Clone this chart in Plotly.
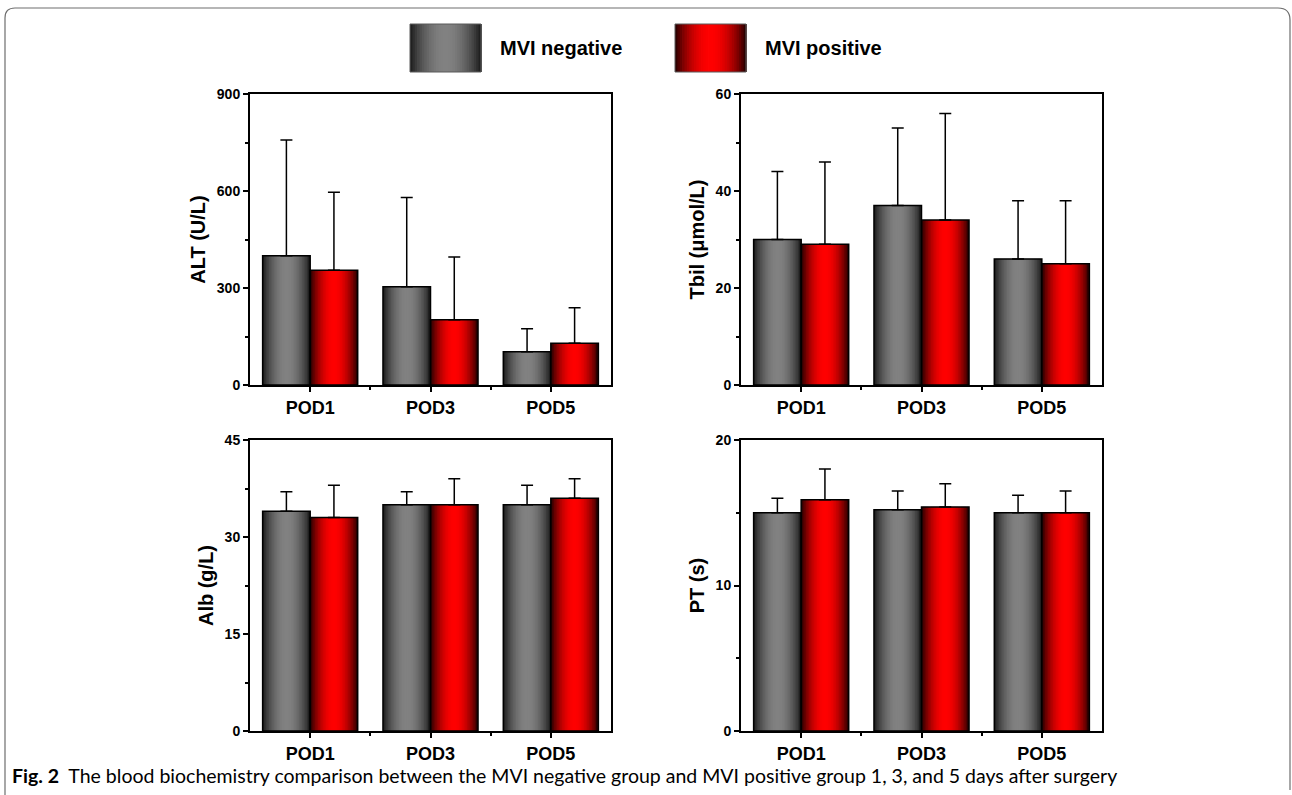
import plotly.graph_objects as go
import math

categories = ["POD1", "POD3", "POD5"]
groups = ["MVI negative", "MVI positive"]

alt_neg = [400, 304, 103]
alt_neg_err = [358, 276, 71]
alt_pos = [355, 202, 129]
alt_pos_err = [241, 194, 110]

tbil_neg = [30, 37, 26]
tbil_neg_err = [14, 16, 12]
tbil_pos = [29, 34, 25]
tbil_pos_err = [17, 22, 13]

alb_neg = [34, 35, 35]
alb_neg_err = [3, 2, 3]
alb_pos = [33, 35, 36]
alb_pos_err = [5, 4, 3]

pt_neg = [15.0, 15.2, 15.0]
pt_neg_err = [1.0, 1.3, 1.2]
pt_pos = [15.9, 15.4, 15.0]
pt_pos_err = [2.1, 1.6, 1.5]

panels = [
    dict(title="ALT (U/L)", neg=alt_neg, neg_err=alt_neg_err, pos=alt_pos, pos_err=alt_pos_err,
         ymax=900, dtick=300),
    dict(title="Tbil (μmol/L)", neg=tbil_neg, neg_err=tbil_neg_err, pos=tbil_pos, pos_err=tbil_pos_err,
         ymax=60, dtick=20),
    dict(title="Alb (g/L)", neg=alb_neg, neg_err=alb_neg_err, pos=alb_pos, pos_err=alb_pos_err,
         ymax=45, dtick=15),
    dict(title="PT (s)", neg=pt_neg, neg_err=pt_neg_err, pos=pt_pos, pos_err=pt_pos_err,
         ymax=20, dtick=10),
]

W, H = 1292, 795
xdoms = [[250 / W, 611 / W], [741 / W, 1102 / W]]
ydoms = [[1 - 385 / H, 1 - 94 / H], [1 - 731 / H, 1 - 440 / H]]

NSL = 30
BW = 0.395


def profile(t):
    return math.sin(math.pi * t) ** 0.8


def gray_col(t):
    p = profile(t)
    v = int(22 + (130 - 22) * p)
    return f"rgb({v},{v},{v})"


def red_col(t):
    p = profile(t)
    r = int(25 + (255 - 25) * p)
    return f"rgb({r},0,0)"


fig = go.Figure()
xs = list(range(len(categories)))
FONT = "Liberation Sans, Arial"

for i, pnl in enumerate(panels):
    col = i % 2
    row = i // 2
    xa = "x" if i == 0 else f"x{i+1}"
    ya = "y" if i == 0 else f"y{i+1}"
    for g, (vals, errs, cfun, off) in enumerate([
        (pnl["neg"], pnl["neg_err"], gray_col, -BW),
        (pnl["pos"], pnl["pos_err"], red_col, 0.0),
    ]):
        sw = BW / NSL
        for k in range(NSL):
            t = (k + 0.5) / NSL
            last = k == NSL - 1
            fig.add_trace(go.Bar(
                x=xs, y=vals, xaxis=xa, yaxis=ya,
                width=sw if last else sw * 2, offset=off + k * sw,
                marker=dict(color=cfun(t), line=dict(width=0)),
                showlegend=False, hoverinfo="skip",
            ))
        fig.add_trace(go.Bar(
            x=xs, y=vals, xaxis=xa, yaxis=ya, name=groups[g],
            width=BW, offset=off,
            marker=dict(color="rgba(0,0,0,0)", line=dict(color="black", width=1.5)),
            error_y=dict(type="data", array=errs, arrayminus=[0] * len(errs), symmetric=False,
                         color="black", thickness=1.5, width=6),
            showlegend=False,
        ))

    xkey = "xaxis" if i == 0 else f"xaxis{i+1}"
    ykey = "yaxis" if i == 0 else f"yaxis{i+1}"
    fig.layout[xkey] = dict(
        domain=xdoms[col], anchor=ya, range=[-0.5, 2.5], automargin=False,
        tickvals=xs, ticktext=categories,
        tickfont=dict(family=FONT, size=18, color="black", weight="bold"),
        showline=True, linewidth=2, linecolor="black", mirror=True,
        ticks="outside", ticklen=5, tickwidth=1.5, tickcolor="black",
        minor=dict(tickvals=[0.5, 1.5], ticks="outside", ticklen=3, tickwidth=1.5, tickcolor="black"),
        showgrid=False, zeroline=False, fixedrange=True,
    )
    fig.layout[ykey] = dict(
        domain=ydoms[row], anchor=xa, range=[0, pnl["ymax"]], automargin=False,
        dtick=pnl["dtick"], tick0=0,
        tickfont=dict(family=FONT, size=14, color="black", weight="bold"),
        showline=True, linewidth=2, linecolor="black", mirror=True,
        ticks="outside", ticklen=5, tickwidth=1.5, tickcolor="black",
        minor=dict(dtick=pnl["dtick"] / 2, ticks="outside", ticklen=3, tickwidth=1.5, tickcolor="black"),
        showgrid=False, zeroline=False, fixedrange=True,
        title=dict(text=pnl["title"], standoff=6,
                   font=dict(family=FONT, size=20, color="black", weight="bold")),
    )

fig.update_layout(barmode="overlay")

# legend swatches (gradient) drawn as shapes
shapes = []
sw_px = (481 - 410) / NSL
for (x0, cfun) in [(410, gray_col), (675, red_col)]:
    for k in range(NSL):
        t = (k + 0.5) / NSL
        shapes.append(dict(type="rect", xref="paper", yref="paper",
                           x0=(x0 + k * sw_px) / W, x1=(x0 + (k + 1) * sw_px + 0.8) / W,
                           y0=1 - 72 / H, y1=1 - 24 / H,
                           fillcolor=cfun(t), line=dict(width=0), layer="above"))
    shapes.append(dict(type="rect", xref="paper", yref="paper",
                       x0=x0 / W, x1=(x0 + 71) / W, y0=1 - 72 / H, y1=1 - 24 / H,
                       line=dict(color="rgb(90,90,90)", width=1), layer="above"))

# rounded outer frame (top, sides)
shapes.append(dict(type="path", xref="paper", yref="paper",
                   path=f"M {5/W} {1-795/H} L {5/W} {1-18/H} Q {5/W} {1-8/H} {15/W} {1-8/H} "
                        f"L {1278/W} {1-8/H} Q {1290/W} {1-8/H} {1290/W} {1-20/H} L {1290/W} {1-790/H}",
                   line=dict(color="rgb(110,110,110)", width=1.2)))
fig.update_layout(shapes=shapes)

annotations = [
    dict(text="MVI negative", x=498 / W, y=1 - 48 / H, xref="paper", yref="paper",
         xanchor="left", yanchor="middle", showarrow=False,
         font=dict(family=FONT, size=20, color="black", weight="bold")),
    dict(text="MVI positive", x=763 / W, y=1 - 48 / H, xref="paper", yref="paper",
         xanchor="left", yanchor="middle", showarrow=False,
         font=dict(family=FONT, size=20, color="black", weight="bold")),
    dict(text="<b>Fig. 2</b>  The blood biochemistry comparison between the MVI negative group and MVI positive group 1, 3, and 5 days after surgery",
         x=10 / W, y=1 - 775 / H, xref="paper", yref="paper",
         xanchor="left", yanchor="middle", showarrow=False,
         font=dict(family="Lato, Open Sans", size=19.5, color="black")),
]
fig.update_layout(annotations=annotations)

fig.update_layout(
    width=W, height=H, margin=dict(l=0, r=0, t=0, b=0, autoexpand=False),
    paper_bgcolor="white", plot_bgcolor="white", showlegend=False,
)

fig.write_html(
    "out.html",
    config={"displayModeBar": False},
    post_script="document.body.style.margin='0';document.body.style.overflow='hidden';",
)
